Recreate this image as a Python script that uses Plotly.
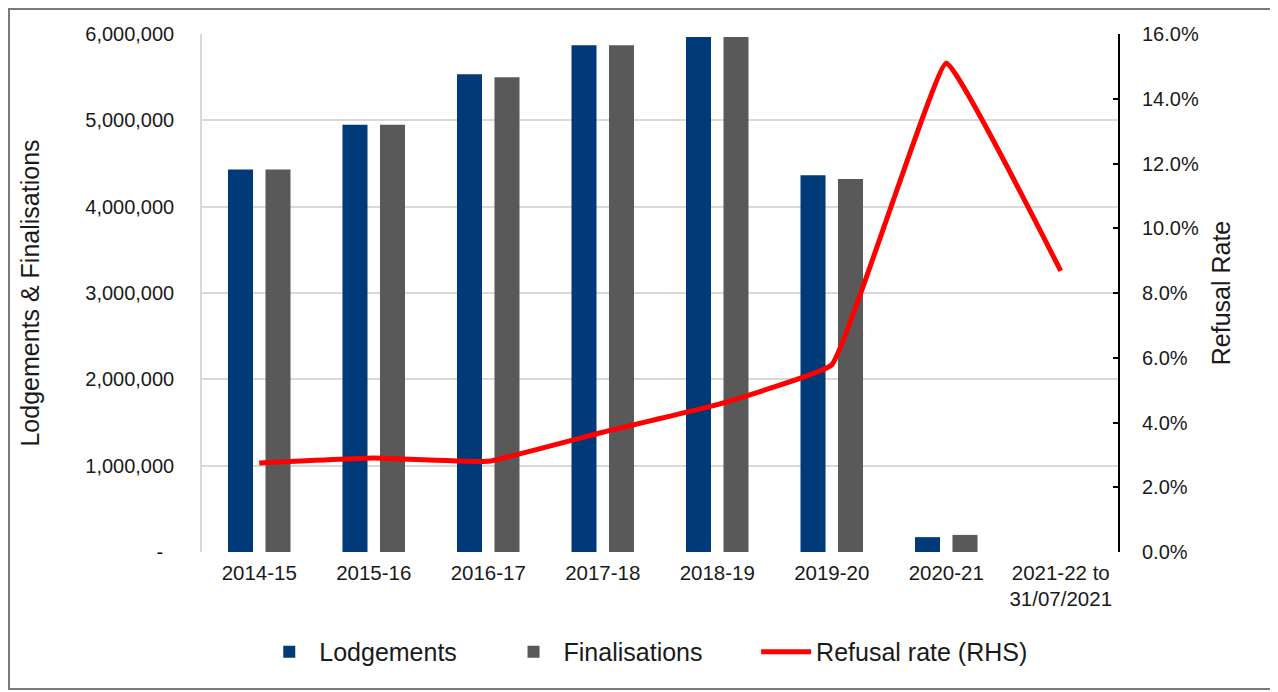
import plotly.graph_objects as go

# Data
years = ["2014-15", "2015-16", "2016-17", "2017-18", "2018-19", "2019-20",
         "2020-21", "2021-22 to<br>31/07/2021"]
lodgements = [4430000, 4950000, 5535000, 5870000, 5965000, 4365000, 172000, None]
finalisations = [4430000, 4950000, 5500000, 5870000, 5965000, 4320000, 198000, None]
refusal_rate = [0.0275, 0.029, 0.028, 0.037, 0.0455, 0.0578, 0.151, 0.0868]

left_ticks = [0, 1000000, 2000000, 3000000, 4000000, 5000000, 6000000]
left_ticktext = ["-\u00a0\u00a0"] + [f"{v:,}" for v in left_ticks[1:]]

NAVY = "#003A78"
GREY = "#595959"
RED = "#FF0000"
FONT = "Liberation Sans, Arial, sans-serif"
TEXT = "#1a1a1a"
PAD = "\u00a0" * 6  # widen legend entries like the original

fig = go.Figure()
fig.add_trace(go.Bar(x=years, y=lodgements, name="Lodgements" + PAD,
                     marker=dict(color=NAVY, line=dict(width=0))))
fig.add_trace(go.Bar(x=years, y=finalisations, name="Finalisations" + PAD + "\u00a0",
                     marker=dict(color=GREY, line=dict(width=0))))
fig.add_trace(go.Scatter(x=years, y=refusal_rate, name="Refusal rate (RHS)",
                         yaxis="y2", mode="lines",
                         line=dict(color=RED, width=5, shape="spline", smoothing=0.25)))

# page body adds an 8px offset, so the figure is 8px smaller than the window
fig.update_layout(
    width=1270, height=684,
    margin=dict(l=194, r=160, t=26, b=140, autoexpand=False),
    paper_bgcolor="white", plot_bgcolor="white",
    font=dict(family=FONT, size=20, color=TEXT),
    barmode="group", bargap=0.345, bargroupgap=0.333,
    xaxis=dict(showline=True, linecolor="white", linewidth=3,
               tickfont=dict(size=20.5), ticks="", showgrid=False),
    yaxis=dict(range=[0, 6000000], tickvals=left_ticks, ticktext=left_ticktext,
               showgrid=True, gridcolor="#D9D9D9", gridwidth=1.5,
               showline=True, linecolor="#D9D9D9", linewidth=1.5,
               zeroline=False, ticks="", ticklabelstandoff=22,
               title=dict(text="Lodgements & Finalisations", font=dict(size=25),
                          standoff=39)),
    yaxis2=dict(range=[0, 0.16], dtick=0.02, tickformat=".1%", overlaying="y",
                side="right", showgrid=False, zeroline=False,
                showline=True, linecolor="black", linewidth=2,
                ticks="inside", ticklen=5, tickwidth=2, tickcolor="black",
                ticklabelstandoff=18,
                title=dict(text="Refusal Rate", font=dict(size=25), standoff=15)),
    legend=dict(orientation="h", x=0.485, xanchor="center", y=-0.193,
                yanchor="middle", font=dict(size=25), itemwidth=50,
                traceorder="normal"),
    shapes=[dict(type="rect", xref="paper", yref="paper",
                 x0=-0.2107, x1=1.1703, y0=-0.2645, y1=1.0483,
                 line=dict(color="#7a7a7a", width=2), layer="below")],
)

fig.write_html("out.html")
